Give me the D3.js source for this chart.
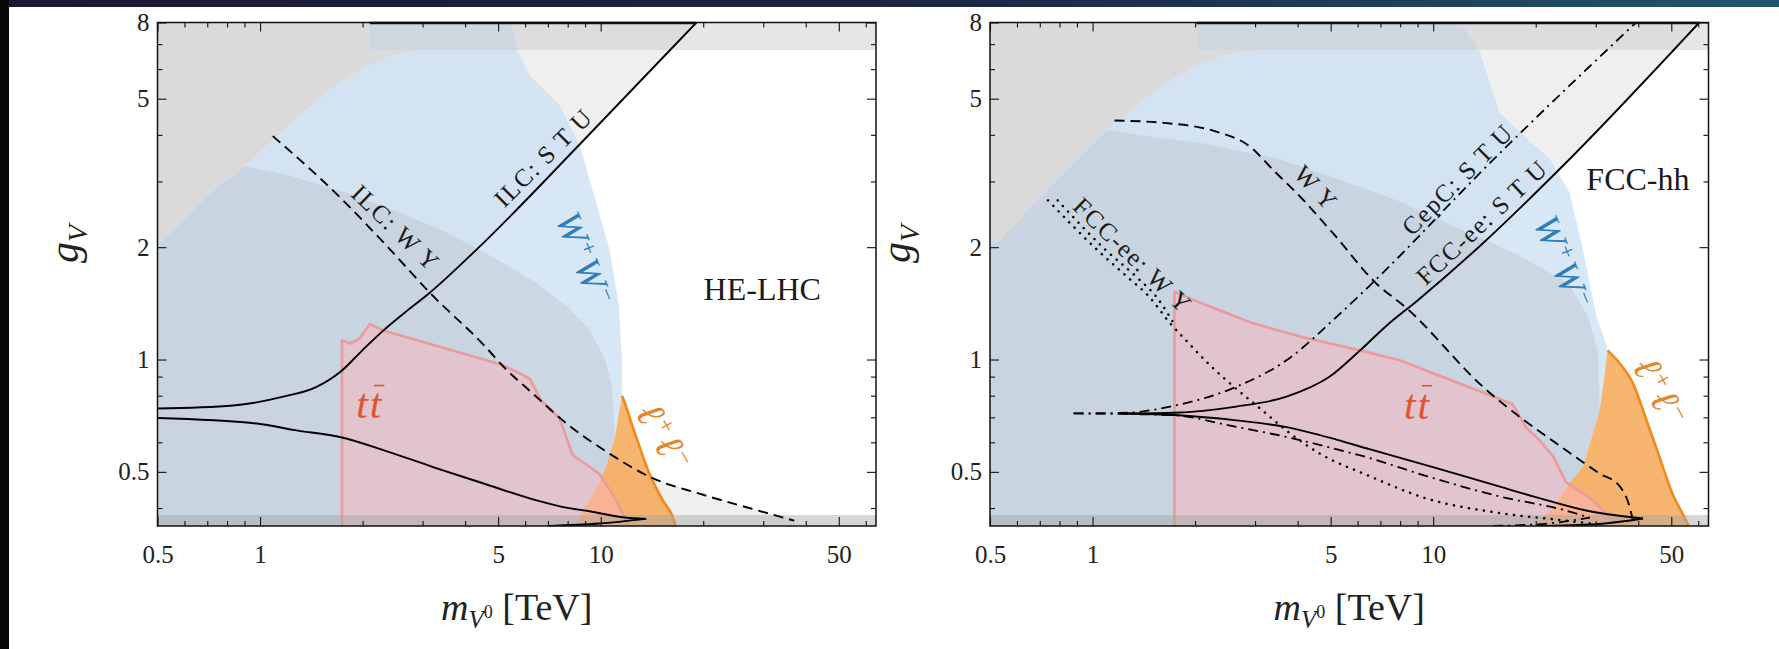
<!DOCTYPE html>
<html>
<head>
<meta charset="utf-8">
<script src="https://cdn.jsdelivr.net/npm/d3@7"></script>
<style>
  html, body { margin: 0; padding: 0; background: #fff; }
  svg { display: block; }
  text { font-family: "Liberation Serif", "DejaVu Serif", serif; }
</style>
</head>
<body>
<svg id="chart" width="1779" height="649"></svg>
<script>
"use strict";

// Axes
var xDomain = [0.5, 64.3];
var yDomain = [0.358, 8];
var xMajor = [0.5, 1, 5, 10, 50];
var xMinor = [0.6, 0.7, 0.8, 0.9, 2, 3, 4, 6, 7, 8, 9, 20, 30, 40, 60];
var yMajor = [0.5, 1, 2, 5, 8];
var yMinor = [0.4, 0.6, 0.7, 0.8, 0.9, 3, 4, 6, 7];
var topBand = [6.75, 8];
var bottomBand = [0.358, 0.383];

// HE-LHC panel (mass in TeV, g_V)
var heGreyEdge = [[0.5,2.03],[0.544,2.18],[0.7,2.75],[0.9,3.3],[1.2,4.2],[1.45,4.9],[1.7,5.5],[2.0,6.05],[2.35,6.45],[2.7,6.68],[3.0,6.75],[2.1,6.76],[2.1,8]];
var heBlueRight = [[5.45,8],[5.71,6.7],[6.18,5.78],[7.57,4.81],[8.67,3.75],[9.7,2.64],[10.6,1.98],[11.3,1.4],[11.55,1.0],[11.55,0.8]];
var heMidEdge = [[0.9,3.3],[1.2,3.12],[1.8,2.8],[2.5,2.5],[3.5,2.2],[5.0,1.85],[6.5,1.6],[8.0,1.38],[9.3,1.2],[10.3,1.0],[10.8,0.85],[11.0,0.62]];
var heLepLeft = [[11.55,0.8],[11.0,0.62],[10.4,0.52],[9.7,0.45],[8.8,0.39],[8.5,0.358]];
var heLepRight = [[11.55,0.8],[11.8,0.76],[12.43,0.659],[13.9,0.495],[15.2,0.42],[16.3,0.377],[16.6,0.358]];
var heTt = [[1.74,0.358],[1.74,1.127],[1.834,1.104],[1.96,1.138],[2.10,1.244],[2.30,1.196],[5.16,0.966],[6.18,0.89],[6.69,0.777],[7.57,0.695],[8.28,0.554],[9.9,0.495],[11.1,0.42],[11.75,0.377],[12.0,0.358]];
var heStuUp = [[0.5,0.739],[0.834,0.753],[1.17,0.795],[1.466,0.845],[1.74,0.935],[2.0,1.06],[2.3,1.195],[2.7,1.35],[3.15,1.51],[4.32,1.97],[8.87,3.85],[19.1,8]];
var heStuLow = [[0.5,0.697],[1.0,0.672],[1.25,0.648],[1.74,0.618],[2.30,0.572],[3.22,0.515],[4.51,0.466],[6.33,0.422],[7.92,0.401],[9.28,0.392],[11.6,0.378],[13.6,0.374]];
var heStuTail = [[7.0,0.358],[9.9,0.3635],[13.6,0.374]];
var heWy = [[1.09,3.97],[1.71,2.73],[2.41,1.97],[3.15,1.51],[4.51,1.10],[5.29,0.939],[6.33,0.81],[7.74,0.687],[10.6,0.56],[14.2,0.481],[19.5,0.437],[27.3,0.40],[37,0.37]];

// FCC-hh panel
var fcGreyEdge = [[0.5,2.03],[0.535,2.09],[0.75,2.9],[1.1,4.12],[1.41,4.96],[1.7,5.6],[2.0,6.1],[2.35,6.48],[2.7,6.68],[3.1,6.75],[2.02,6.76],[2.02,8]];
var fcBlueRight = [[12.0,8],[13.7,6.7],[15.6,4.61],[18.7,3.92],[21.9,3.46],[25.1,2.81],[27.5,1.98],[30.1,1.31],[32.2,1.1],[32.5,1.058]];
var fcMidEdge = [[1.1,4.12],[1.5,3.95],[2.1,3.8],[3.5,3.45],[5.5,3.0],[8,2.65],[11.2,2.3],[17.5,1.92],[25,1.6],[28.5,1.3],[30.5,1.05],[30.8,0.733]];
var fcLepLeft = [[32.5,1.058],[31.8,0.9],[30.8,0.733],[27.5,0.515],[25.1,0.466],[22.5,0.40],[20.5,0.37],[20,0.358]];
var fcLepRight = [[32.5,1.058],[35.3,0.976],[38.6,0.863],[42,0.70],[46.1,0.55],[50.4,0.437],[53.8,0.388],[56.3,0.358]];
var fcTt = [[1.74,0.358],[1.74,1.52],[2.11,1.41],[2.96,1.25],[4.1,1.15],[6.1,1.058],[7.97,0.995],[14.3,0.81],[17.1,0.76],[18.7,0.659],[20.5,0.608],[22.5,0.55],[24.5,0.47],[29.4,0.42],[33.7,0.37],[34.5,0.358]];
var fcStuUp = [[1.26,0.717],[1.74,0.72],[2.64,0.748],[3.71,0.795],[4.97,0.9],[6.1,1.058],[7.28,1.23],[9.0,1.44],[14.0,2.05],[24.0,3.3],[60.4,8]];
var fcStuLow = [[1.26,0.717],[1.74,0.71],[2.64,0.687],[3.71,0.659],[5.2,0.61],[6.5,0.575],[9.98,0.515],[15.6,0.457],[21.5,0.42],[28.1,0.394],[41.3,0.375]];
var fcStuTail = [[20,0.358],[30,0.362],[41.3,0.375]];
var fcCepUp = [[0.88,0.717],[1.26,0.72],[1.69,0.748],[2.64,0.845],[3.71,0.995],[5.2,1.3],[7.08,1.70],[14.0,3.22],[39.4,8]];
var fcCepLow = [[0.88,0.717],[1.69,0.71],[2.64,0.66],[3.71,0.62],[5.2,0.575],[6.35,0.548],[9.5,0.488],[15.6,0.43],[24.5,0.394],[28.8,0.377]];
var fcCepTail = [[15,0.358],[22,0.364],[28.8,0.377]];
var fcWy = [[1.16,4.37],[1.65,4.3],[2.31,4.08],[2.9,3.72],[3.39,3.22],[4.07,2.73],[5.08,2.18],[6.8,1.6],[8.3,1.38],[14.0,0.845],[24.5,0.572],[30.8,0.495],[35.3,0.457],[37.8,0.40],[38.6,0.37]];
var fcEeWy = [[0.74,2.67],[1.03,1.97],[1.26,1.67],[1.47,1.47],[1.69,1.25],[1.89,1.12],[2.2,0.97],[2.58,0.85],[3.1,0.74],[3.71,0.645],[4.64,0.56],[6.4,0.49],[9.5,0.425],[15.6,0.388],[24.5,0.37],[30,0.362]];
var fcEeWy2 = [[0.79,2.67],[1.09,1.97],[1.34,1.67],[1.56,1.45],[1.74,1.24]];

// Layout
var plotTop = 22.5, plotBottom = 526, plotW = 718.5;

var svg = d3.select("#chart");
var defs = svg.append("defs");

// slide edges
var grad = defs.append("linearGradient").attr("id", "topStrip");
grad.append("stop").attr("offset", "0%").attr("stop-color", "#1b1733");
grad.append("stop").attr("offset", "55%").attr("stop-color", "#1c2746");
grad.append("stop").attr("offset", "100%").attr("stop-color", "#22566e");
svg.append("rect").attr("x", 0).attr("y", 0).attr("width", 1779).attr("height", 7).attr("fill", "url(#topStrip)");
svg.append("rect").attr("x", 0).attr("y", 0).attr("width", 9).attr("height", 649).attr("fill", "#060606");

var blueW = "#2f7dbd", redT = "#e2542e", orangeL = "#e58428";

function wwParts() {
  return [{t: "W", it: 1}, {t: "+", sc: 0.62, dy: -13}, {t: "W", it: 1, dy: 13}, {t: "\u2212", sc: 0.62, dy: -13}];
}
function llParts() {
  return [{t: "\u2113", it: 1}, {t: "+", sc: 0.62, dy: -13}, {t: "\u2113", it: 1, dy: 13}, {t: "\u2212", sc: 0.62, dy: -13}];
}
function ttParts() {
  return [{t: "t", it: 1}, {t: "t", it: 1, over: 1}];
}

var panels = [
  {
    name: "he", left: 157.5,
    greyEdge: heGreyEdge, blueRight: heBlueRight, midEdge: heMidEdge,
    lepLeft: heLepLeft, lepRight: heLepRight, tt: heTt,
    stuUp: heStuUp, stuLow: heStuLow, stuTail: heStuTail, wy: heWy,
    thickTop: [2.1, 19.1],
    labels: [
      {parts: [{t: "ILC: W Y"}], at: [2.5, 2.25], rot: 44, size: 25, spacing: 1.5},
      {parts: [{t: "ILC: S T U"}], at: [6.79, 3.47], rot: -45, size: 25, spacing: 1.5},
      {parts: wwParts(), at: [8.97, 1.85], rot: 68, size: 37, spacing: 3, color: blueW},
      {parts: [{t: "HE-LHC"}], at: [29.8, 1.54], size: 32},
      {parts: ttParts(), at: [2.10, 0.758], size: 42, spacing: 2, color: redT},
      {parts: llParts(), at: [15.4, 0.616], rot: 60, size: 40, spacing: 3, color: orangeL}
    ]
  },
  {
    name: "fc", left: 990,
    greyEdge: fcGreyEdge, blueRight: fcBlueRight, midEdge: fcMidEdge,
    lepLeft: fcLepLeft, lepRight: fcLepRight, tt: fcTt,
    stuUp: fcStuUp, stuLow: fcStuLow, stuTail: fcStuTail, wy: fcWy,
    cepUp: fcCepUp, cepLow: fcCepLow, cepTail: fcCepTail, eeWy: [fcEeWy, fcEeWy2],
    thickTop: [2.02, 60.4],
    labels: [
      {parts: [{t: "W Y"}], at: [4.53, 2.88], rot: 47, size: 25, spacing: 1.5},
      {parts: [{t: "CepC: S T U"}], at: [11.8, 3.03], rot: -45, size: 25, spacing: 1.5},
      {parts: [{t: "FCC-ee: S T U"}], at: [13.9, 2.33], rot: -43, size: 25, spacing: 1.5},
      {parts: [{t: "FCC-ee: W Y"}], at: [1.31, 1.9], rot: 44, size: 25, spacing: 1.5},
      {parts: wwParts(), at: [24.0, 1.81], rot: 68, size: 37, spacing: 3, color: blueW},
      {parts: [{t: "FCC-hh"}], at: [39.9, 3.03], size: 32},
      {parts: ttParts(), at: [9.0, 0.757], size: 42, spacing: 2, color: redT},
      {parts: llParts(), at: [46.5, 0.816], rot: 62, size: 40, spacing: 3, color: orangeL}
    ]
  }
];

function addLabel(layer, x, y, lab) {
  var g = layer.append("g")
    .attr("transform", "translate(" + x(lab.at[0]) + "," + y(lab.at[1]) + ") rotate(" + (lab.rot || 0) + ")");
  var t = g.append("text")
    .attr("y", lab.size * 0.33)
    .attr("text-anchor", "middle")
    .style("font-size", lab.size + "px")
    .style("fill", lab.color || "#1a1a1a");
  if (lab.spacing) t.style("letter-spacing", lab.spacing + "px");
  var pos = 0, bars = [];
  lab.parts.forEach(function(p) {
    var s = t.append("tspan").text(p.t);
    if (p.it) s.style("font-style", "italic");
    if (p.sc) s.style("font-size", (lab.size * p.sc) + "px");
    if (p.dy) s.attr("dy", p.dy);
    if (p.over) bars.push(pos);
    pos += p.t.length;
  });
  // bar over a character (t-bar)
  bars.forEach(function(i) {
    var a = t.node().getStartPositionOfChar(i);
    var b = t.node().getEndPositionOfChar(i);
    g.append("line")
      .attr("x1", a.x + lab.size * 0.1).attr("x2", b.x + lab.size * 0.02)
      .attr("y1", a.y - lab.size * 0.78).attr("y2", a.y - lab.size * 0.78)
      .attr("stroke", lab.color).attr("stroke-width", 1.6);
  });
}

function drawPanel(p) {
  var x = d3.scaleLog().domain(xDomain).range([p.left, p.left + plotW]);
  var y = d3.scaleLog().domain(yDomain).range([plotBottom, plotTop]);
  var x0 = xDomain[0], yMin = yDomain[0], yMax = yDomain[1];

  defs.append("clipPath").attr("id", "clip-" + p.name).append("rect")
    .attr("x", p.left).attr("y", plotTop).attr("width", plotW).attr("height", plotBottom - plotTop);
  var area = svg.append("g").attr("clip-path", "url(#clip-" + p.name + ")");

  var poly = d3.line().x(d => x(d[0])).y(d => y(d[1]));
  var smooth = d3.line().x(d => x(d[0])).y(d => y(d[1])).curve(d3.curveMonotoneX);

  function fillShape(pts, fill) {
    area.append("path").attr("d", poly(pts) + "Z").attr("fill", fill);
  }
  function strokeLine(pts, width, dash, gen, color) {
    var l = area.append("path").attr("d", (gen || smooth)(pts))
      .attr("fill", "none").attr("stroke", color || "#000")
      .attr("stroke-width", width).attr("stroke-linejoin", "round");
    if (dash) l.attr("stroke-dasharray", dash);
    return l;
  }

  // lepton-collider exclusion (light grey)
  var wyLast = p.wy[p.wy.length - 1];
  fillShape([[x0, p.stuUp[0][1]]].concat(p.stuUp, [[x0, yMax]]), "#efefef");
  fillShape([[x0, p.wy[0][1]]].concat(p.wy, [[wyLast[0], yMin], [x0, yMin]]), "#efefef");

  // W+W- reach
  fillShape([[x0, yMin]].concat(p.greyEdge, p.blueRight, p.lepLeft.slice(1)), "rgba(200,222,243,0.72)");

  // lower grey-blue band
  var mid0 = p.midEdge[0][1], midN = p.midEdge[p.midEdge.length - 1][1];
  var midShape = [[x0, yMin]]
    .concat(p.greyEdge.filter(d => d[1] < mid0), p.midEdge, p.lepLeft.filter(d => d[1] < midN));
  fillShape(midShape, "rgba(178,180,184,0.3)");

  // top band and upper-left grey
  area.append("rect").attr("x", p.left).attr("width", plotW)
    .attr("y", y(topBand[1])).attr("height", y(topBand[0]) - y(topBand[1]))
    .attr("fill", "rgba(200,200,200,0.45)");
  fillShape([[x0, yMax]].concat(p.greyEdge), "#dadada");

  // l+l- and tt regions
  fillShape(p.lepRight.concat(p.lepLeft.slice().reverse()), "rgba(245,160,70,0.78)");
  fillShape(p.tt, "rgba(250,180,185,0.5)");
  strokeLine(p.tt, 2.6, null, poly, "#eb9a9e");
  strokeLine(p.lepRight, 2.6, null, smooth, "#f08a1c");

  // bottom band
  area.append("rect").attr("x", p.left).attr("width", plotW)
    .attr("y", y(bottomBand[1])).attr("height", y(bottomBand[0]) - y(bottomBand[1]))
    .attr("fill", "rgba(165,165,165,0.45)");

  // contours
  strokeLine(p.stuUp, 1.9);
  strokeLine(p.stuLow, 1.9);
  strokeLine(p.stuTail, 1.9);
  strokeLine(p.wy, 1.9, "10,6");
  if (p.cepUp) {
    strokeLine(p.cepUp, 1.8, "10,5,2,5");
    strokeLine(p.cepLow, 1.8, "10,5,2,5");
    strokeLine(p.cepTail, 1.8, "10,5,2,5");
    p.eeWy.forEach(function(pts) {
      strokeLine(pts, 2.5, "0.1,7.5").attr("stroke-linecap", "round");
    });
  }

  // labels
  p.labels.forEach(function(lab) { addLabel(area, x, y, lab); });

  // frame
  svg.append("rect").attr("x", p.left).attr("y", plotTop).attr("width", plotW)
    .attr("height", plotBottom - plotTop).attr("fill", "none")
    .attr("stroke", "#111").attr("stroke-width", 1.5);
  svg.append("line").attr("x1", x(p.thickTop[0])).attr("x2", x(p.thickTop[1]))
    .attr("y1", plotTop + 0.5).attr("y2", plotTop + 0.5)
    .attr("stroke", "#111").attr("stroke-width", 2.5);

  // ticks on all four sides
  var axes = [
    [d3.axisBottom(x), "translate(0," + plotBottom + ")", xMajor, xMinor, true],
    [d3.axisTop(x), "translate(0," + plotTop + ")", xMajor, xMinor, false],
    [d3.axisLeft(y), "translate(" + p.left + ",0)", yMajor, yMinor, true],
    [d3.axisRight(y), "translate(" + (p.left + plotW) + ",0)", yMajor, yMinor, false]
  ];
  axes.forEach(function(a) {
    var isX = a[2] === xMajor;
    var major = svg.append("g").attr("transform", a[1])
      .call(a[0].tickValues(a[2]).tickSize(-9).tickSizeOuter(0)
        .tickPadding(isX ? 19 : 8)
        .tickFormat(a[4] ? (d => String(d)) : ""));
    var minor = svg.append("g").attr("transform", a[1])
      .call(a[0].tickValues(a[3]).tickSize(-5).tickSizeOuter(0).tickFormat(""));
    [major, minor].forEach(function(gr) {
      gr.select(".domain").remove();
      gr.selectAll("line").attr("stroke", "#111").attr("stroke-width", 1.1);
    });
    major.selectAll("text")
      .style("font-family", "'Liberation Serif', 'DejaVu Serif', serif")
      .style("font-size", "25px").attr("fill", "#222");
  });

  // axis titles
  var gy = svg.append("text")
    .attr("transform", "translate(" + (p.left - 92) + "," + 244 + ") rotate(-90)")
    .attr("text-anchor", "middle").attr("y", 12)
    .style("font-size", "42px").attr("fill", "#222");
  gy.append("tspan").text("g").style("font-style", "italic");
  gy.append("tspan").text("V").style("font-style", "italic").style("font-size", "28px").attr("dy", 9);

  var mx = svg.append("text")
    .attr("x", p.left + plotW / 2).attr("y", 620)
    .attr("text-anchor", "middle")
    .style("font-size", "38px").attr("fill", "#222");
  mx.append("tspan").text("m").style("font-style", "italic");
  mx.append("tspan").text("V").style("font-style", "italic").style("font-size", "25px").attr("dy", 8);
  mx.append("tspan").text("0").style("font-size", "18px").attr("dy", -10);
  mx.append("tspan").text(" [TeV]").attr("dy", 2);
}

panels.forEach(drawPanel);
</script>
</body>
</html>
